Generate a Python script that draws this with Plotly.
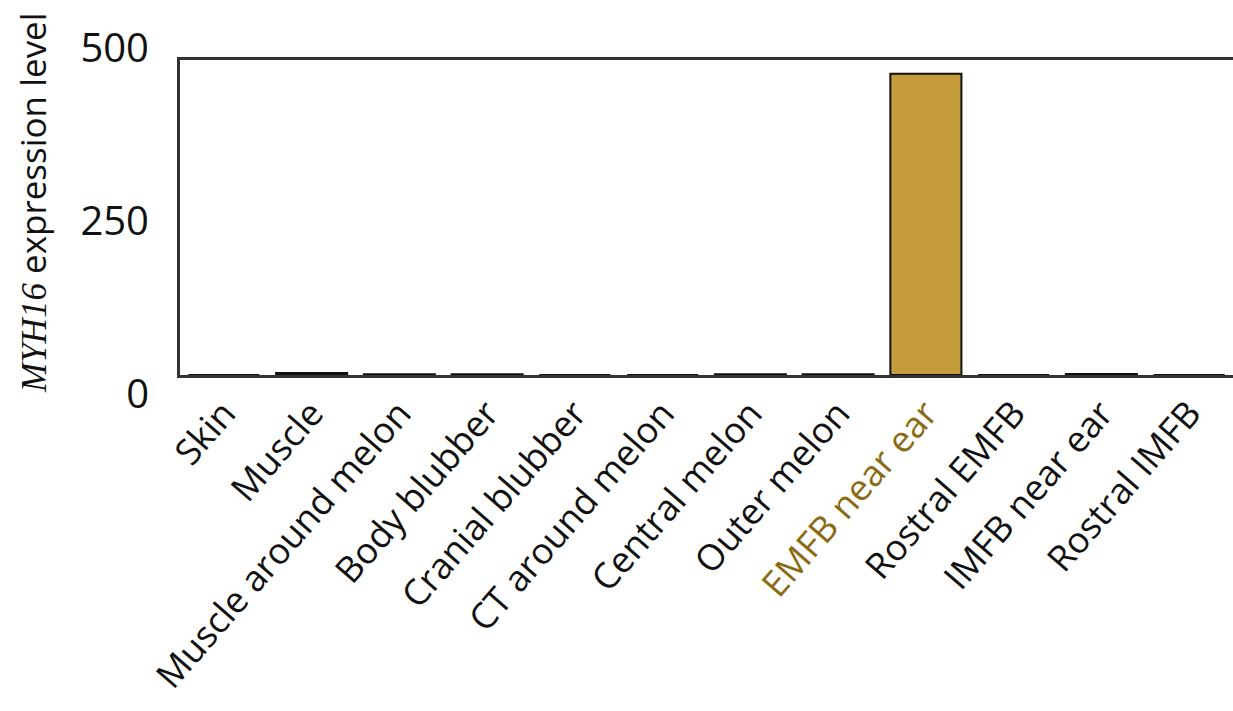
import plotly.graph_objects as go

categories = ["Skin", "Muscle", "Muscle around melon", "Body blubber", "Cranial blubber",
              "CT around melon", "Central melon", "Outer melon", "EMFB near ear",
              "Rostral EMFB", "IMFB near ear", "Rostral IMFB"]
values = [0, 3, 1, 1, 0, 0, 1, 1, 478, 0, 1.5, 0]
highlight = "EMFB near ear"
y_tick_vals = [0, 250, 500]
y_tick_text = ["0", "250", "500"]

bar_color = "#C59C3C"
hl_text_color = "#8A6A12"
font_family = "Open Sans"

ticktext = [f'<span style="color:{hl_text_color}">{c}</span>' if c == highlight else c
            for c in categories]

W, H = 1233, 711
L, R, T, B = 180, 0, 48, 317
plot_h = H - T - B
dom_lo = (H - B - 375) / plot_h
dom_hi = (H - B - 60) / plot_h

fig = go.Figure()
fig.add_trace(go.Bar(
    x=categories, y=values, xaxis="x", yaxis="y",
    marker=dict(color=bar_color, line=dict(color="#111111", width=2)),
    showlegend=False,
))
fig.add_trace(go.Scatter(
    x=[0], y=[0], xaxis="x2", yaxis="y2", mode="markers",
    marker=dict(opacity=0), showlegend=False, hoverinfo="skip",
))

fig.update_layout(
    width=W, height=H,
    margin=dict(l=L, r=R, t=T, b=B, pad=0, autoexpand=False),
    paper_bgcolor="white", plot_bgcolor="rgba(0,0,0,0)",
    bargap=0.19,
    font=dict(family=font_family, color="#111111"),
    xaxis=dict(
        type="category", categoryorder="array", categoryarray=categories,
        tickmode="array", tickvals=categories, ticktext=ticktext,
        tickangle=-49, tickfont=dict(size=36, family=font_family, color="#111111"),
        showline=True, linecolor="#333333", linewidth=2.5, mirror=True,
        showgrid=False, zeroline=False, ticks="",
        anchor="y", domain=[0, 1], automargin=False,
    ),
    yaxis=dict(
        domain=[dom_lo, dom_hi], range=[0, 500], anchor="x",
        showline=True, linecolor="#333333", linewidth=2.5, mirror=False,
        showgrid=False, zeroline=False, showticklabels=False, ticks="",
        automargin=False,
    ),
    xaxis2=dict(
        domain=[0, 1], range=[0, 1], anchor="y2", visible=False, automargin=False,
    ),
    yaxis2=dict(
        domain=[0, 1], range=[0, 500], anchor="x2",
        tickmode="array", tickvals=y_tick_vals, ticktext=y_tick_text,
        tickfont=dict(size=40, family=font_family, color="#111111"),
        showline=False, showgrid=False, zeroline=False,
        ticks="outside", ticklen=22, tickcolor="rgba(0,0,0,0)", automargin=False,
    ),
    annotations=[dict(
        text='<span style="font-family:\'Liberation Serif\'"><i>MYH16</i></span> expression level',
        xref="paper", yref="paper",
        x=(32 - L) / (W - L - R), y=(H - B - 203) / plot_h,
        xanchor="center", yanchor="middle", textangle=-90, showarrow=False,
        font=dict(size=35, family=font_family, color="#111111"),
    )],
)

fig.write_html("out.html")
